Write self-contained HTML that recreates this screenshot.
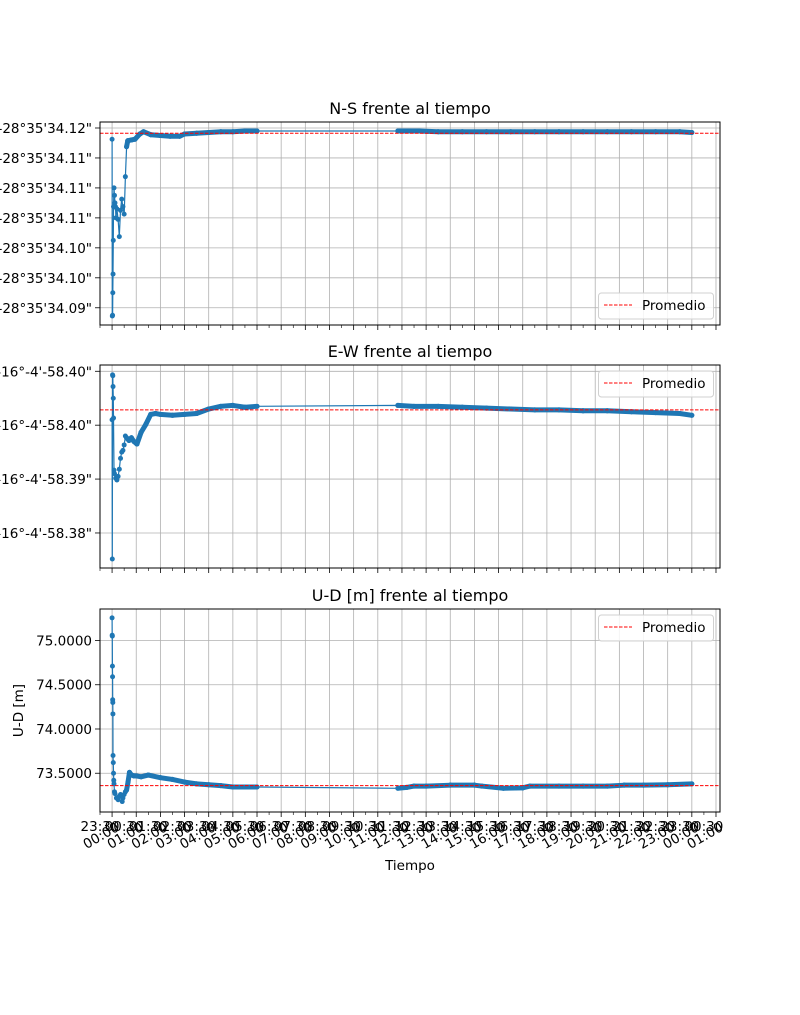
<!DOCTYPE html>
<html><head><meta charset="utf-8">
<style>
html,body{margin:0;padding:0;background:#fff;}
svg{display:block;font-family:"DejaVu Sans","Liberation Sans",sans-serif;}
</style></head>
<body>
<svg id="fig" width="800" height="1015" viewBox="0 0 800 1015" xmlns="http://www.w3.org/2000/svg"></svg>
<script>
// ---- data (time in hours from 00:00) ----
const nsTimes = [0,0.01,0.02,0.03,0.04,0.05,0.06,0.08,0.1,0.12,0.14,0.16,0.2,0.25,0.3,0.35,0.4,0.45,0.5,0.55,0.6,0.65,0.8,0.95,1.15,1.3,1.6,2.0,2.4,2.8,3.0,3.5,4.0,4.5,5.0,5.5,6.0,11.83,12.3,12.7,13.5,14.5,15.5,16.5,17.5,18.5,19.5,20.5,21.5,22.5,23.5,24.0];
const nsValues = [34.1165,34.0929,34.0930,34.0960,34.0985,34.1030,34.1075,34.1100,34.1090,34.1080,34.1075,34.1060,34.1072,34.1058,34.1035,34.1070,34.1085,34.1075,34.1065,34.1115,34.1155,34.1163,34.1164,34.1165,34.1172,34.1175,34.1171,34.1170,34.1169,34.1169,34.1172,34.1173,34.1174,34.1175,34.1175,34.1176,34.1176,34.1176,34.1176,34.1176,34.1175,34.1175,34.1175,34.1175,34.1175,34.1175,34.1175,34.1175,34.1175,34.1175,34.1175,34.1174];
const nsMean = 34.1173;
const nsTicks = [34.118,34.114,34.110,34.106,34.102,34.098,34.094];
const nsTickLabels = ["-28°35'34.12\"","-28°35'34.11\"","-28°35'34.11\"","-28°35'34.11\"","-28°35'34.10\"","-28°35'34.10\"","-28°35'34.09\""];

const ewTimes = [0,0.01,0.02,0.03,0.04,0.05,0.06,0.08,0.1,0.15,0.2,0.25,0.3,0.35,0.4,0.45,0.5,0.55,0.6,0.7,0.8,0.9,1.03,1.2,1.4,1.6,1.8,2.0,2.5,3.0,3.5,4.0,4.5,5.0,5.5,6.0,11.83,12.5,13.5,14.5,15.5,16.5,17.5,18.5,19.5,20.5,21.5,22.5,23.5,24.0];
const ewValues = [58.3966,58.3811,58.4016,58.4015,58.4003,58.3990,58.3968,58.3910,58.3906,58.3901,58.3899,58.3903,58.3911,58.3923,58.3930,58.3932,58.3938,58.3948,58.3946,58.3943,58.3946,58.3942,58.3939,58.3952,58.3961,58.3972,58.3973,58.3972,58.3971,58.3972,58.3973,58.3978,58.3981,58.3982,58.3980,58.3981,58.3982,58.3981,58.3981,58.3980,58.3979,58.3978,58.3977,58.3977,58.3976,58.3976,58.3975,58.3974,58.3973,58.3971];
const ewMean = 58.3977;
const ewTicks = [58.402,58.396,58.390,58.384];
const ewTickLabels = ["-16°-4'-58.40\"","-16°-4'-58.40\"","-16°-4'-58.39\"","-16°-4'-58.38\""];

const udTimes = [0,0.005,0.01,0.015,0.02,0.025,0.03,0.035,0.04,0.05,0.06,0.07,0.08,0.1,0.12,0.18,0.25,0.3,0.35,0.42,0.45,0.5,0.55,0.6,0.66,0.72,0.8,0.9,1.0,1.2,1.5,2.0,2.5,3.0,3.5,4.0,4.5,5.0,5.5,6.0,11.83,12.2,12.5,13.0,14.0,15.0,15.3,16.2,17.0,17.3,18.5,19.5,20.5,21.2,22.0,23.0,24.0];
const udValues = [75.256,75.06,75.05,74.71,74.59,74.33,74.30,74.17,73.70,73.62,73.50,73.42,73.38,73.29,73.27,73.22,73.20,73.24,73.26,73.18,73.22,73.26,73.29,73.31,73.40,73.51,73.48,73.47,73.47,73.46,73.48,73.45,73.43,73.40,73.38,73.37,73.36,73.345,73.345,73.345,73.33,73.34,73.355,73.355,73.365,73.365,73.355,73.33,73.335,73.355,73.355,73.355,73.355,73.365,73.365,73.37,73.38];
const udMean = 73.36;
const udTicks = [75.0,74.5,74.0,73.5];
const udTickLabels = ["75.0000","74.5000","74.0000","73.5000"];

const hourLabels = ["00:00","01:00","02:00","03:00","04:00","05:00","06:00","07:00","08:00","09:00","10:00","11:00","12:00","13:00","14:00","15:00","16:00","17:00","18:00","19:00","20:00","21:00","22:00","23:00","00:00","01:00"];
const halfLabels = ["23:30","00:30","01:30","02:30","03:30","04:30","05:30","06:30","07:30","08:30","09:30","10:30","11:30","12:30","13:30","14:30","15:30","16:30","17:30","18:30","19:30","20:30","21:30","22:30","23:30","00:30"];

// ---- layout ----
const NS = "http://www.w3.org/2000/svg";
const svg = document.getElementById('fig');
const X0 = 100, X1 = 720, T0 = -0.5, T1 = 25.166;
function xs(t){ return X0 + (t - T0) / (T1 - T0) * (X1 - X0); }
function mk(tag, attrs, parent){
  const e = document.createElementNS(NS, tag);
  for (const k in attrs) e.setAttribute(k, attrs[k]);
  (parent || svg).appendChild(e);
  return e;
}
function txt(str, attrs, parent){ const e = mk('text', attrs, parent); e.textContent = str; return e; }

const panels = [
  {name:'ns', title:'N-S frente al tiempo', top:122, bot:325, vTop:34.1188, vBot:34.0917, times:nsTimes, vals:nsValues, mean:nsMean, ticks:nsTicks, labels:nsTickLabels, legend:'bottom', ylabel:null},
  {name:'ew', title:'E-W frente al tiempo', top:365, bot:568, vTop:58.4027, vBot:58.3801, times:ewTimes, vals:ewValues, mean:ewMean, ticks:ewTicks, labels:ewTickLabels, legend:'top', ylabel:null},
  {name:'ud', title:'U-D [m] frente al tiempo', top:609, bot:812, vTop:75.356, vBot:73.062, times:udTimes, vals:udValues, mean:udMean, ticks:udTicks, labels:udTickLabels, legend:'top', ylabel:'U-D [m]'}
];

panels.forEach((p, pi) => {
  const g = mk('g', {});
  
  
  const ys = v => p.top + (p.vTop - v) / (p.vTop - p.vBot) * (p.bot - p.top);
  const clipId = 'clip' + pi;
  const cp = mk('clipPath', {id: clipId}, g);
  mk('rect', {x:X0, y:p.top, width:X1-X0, height:p.bot-p.top}, cp);
  for (let h = 0; h <= 25; h++){
    const gl = mk('line', {x1:xs(h), x2:xs(h), y1:p.top, y2:p.bot, stroke:'#b0b0b0', 'stroke-width':0.8}, g);
    
    
  }
  p.ticks.forEach((v, i) => {
    const y = ys(v);
    const gl = mk('line', {x1:X0, x2:X1, y1:y, y2:y, stroke:'#b0b0b0', 'stroke-width':0.8}, g);
    
    
    mk('line', {x1:X0-5, x2:X0, y1:y, y2:y, stroke:'#000', 'stroke-width':0.8}, g);
    const tl = txt(p.labels[i], {x:X0-8, y:y+5, 'text-anchor':'end', 'font-size':13.5, fill:'#000'}, g);
    
    
  });
  const sg = mk('g', {'clip-path':'url(#' + clipId + ')'}, g);
  
  
  let pts = p.times.map((t, i) => xs(t).toFixed(1) + ',' + ys(p.vals[i]).toFixed(1)).join(' ');
  mk('polyline', {points:pts, fill:'none', stroke:'#1f77b4', 'stroke-width':1.2}, sg);
  for (let i = 1; i < p.times.length; i++){
    if (p.times[i-1] >= 0.6 && p.times[i] - p.times[i-1] < 3){
      mk('line', {x1:xs(p.times[i-1]), y1:ys(p.vals[i-1]), x2:xs(p.times[i]), y2:ys(p.vals[i]), stroke:'#1f77b4', 'stroke-width':5, 'stroke-linecap':'round'}, sg);
    }
  }
  p.times.forEach((t, i) => {
    const c = mk('circle', {cx:xs(t), cy:ys(p.vals[i]), r:2.5, fill:'#1f77b4'}, sg);
    
    
  });
  const ml = mk('line', {x1:X0, x2:X1, y1:ys(p.mean), y2:ys(p.mean), stroke:'red', 'stroke-width':1, 'stroke-dasharray':'3.5,1.5'}, g);
  
  
  const fr = mk('rect', {x:X0, y:p.top, width:X1-X0, height:p.bot-p.top, fill:'none', stroke:'#000', 'stroke-width':1}, g);
  
  
  for (let h = 0; h <= 25; h++) mk('line', {x1:xs(h), x2:xs(h), y1:p.bot, y2:p.bot+5, stroke:'#000', 'stroke-width':0.8}, g);
  for (let h = -0.5; h <= 25; h += 1) mk('line', {x1:xs(h), x2:xs(h), y1:p.bot, y2:p.bot+3, stroke:'#000', 'stroke-width':0.6}, g);
  const tt = txt(p.title, {x:(X0+X1)/2, y:p.top-8, 'text-anchor':'middle', 'font-size':16, fill:'#000'}, g);
  
  
  const ly = p.legend === 'bottom' ? p.bot - 32 : p.top + 6;
  const lg = mk('g', {}, g);
  
  
  mk('rect', {x:598.5, y:ly, width:115, height:26, rx:3, fill:'#fff', 'fill-opacity':0.85, stroke:'#d0d0d0', 'stroke-width':1}, lg);
  mk('line', {x1:604, x2:632, y1:ly+12, y2:ly+12, stroke:'red', 'stroke-width':1, 'stroke-dasharray':'3.5,1.5'}, lg);
  const le = txt('Promedio', {x:642, y:ly+17, 'font-size':13.5, fill:'#000'}, lg);
  
  
  if (p.ylabel){
    const yl = txt(p.ylabel, {x:0, y:0, transform:'translate(23,' + ((p.top+p.bot)/2) + ') rotate(-90)', 'text-anchor':'middle', 'font-size':13.5, fill:'#000'}, g);
    
    
  }
});

const bot = 812;
halfLabels.forEach((s, i) => {
  const t = txt(s, {x:xs(i - 0.5), y:bot+19, 'text-anchor':'middle', 'font-size':13.5, fill:'#000'});
  
  
});
hourLabels.forEach((s, i) => {
  const t = txt(s, {x:0, y:0, dy:'0.75em', transform:'translate(' + (xs(i)+3) + ',' + (bot+9) + ') rotate(-30)', 'text-anchor':'end', 'font-size':13.5, fill:'#000'});
  
  
});
const xt = txt('Tiempo', {x:410, y:870, 'text-anchor':'middle', 'font-size':13.5, fill:'#000'});


</script>
</body></html>
